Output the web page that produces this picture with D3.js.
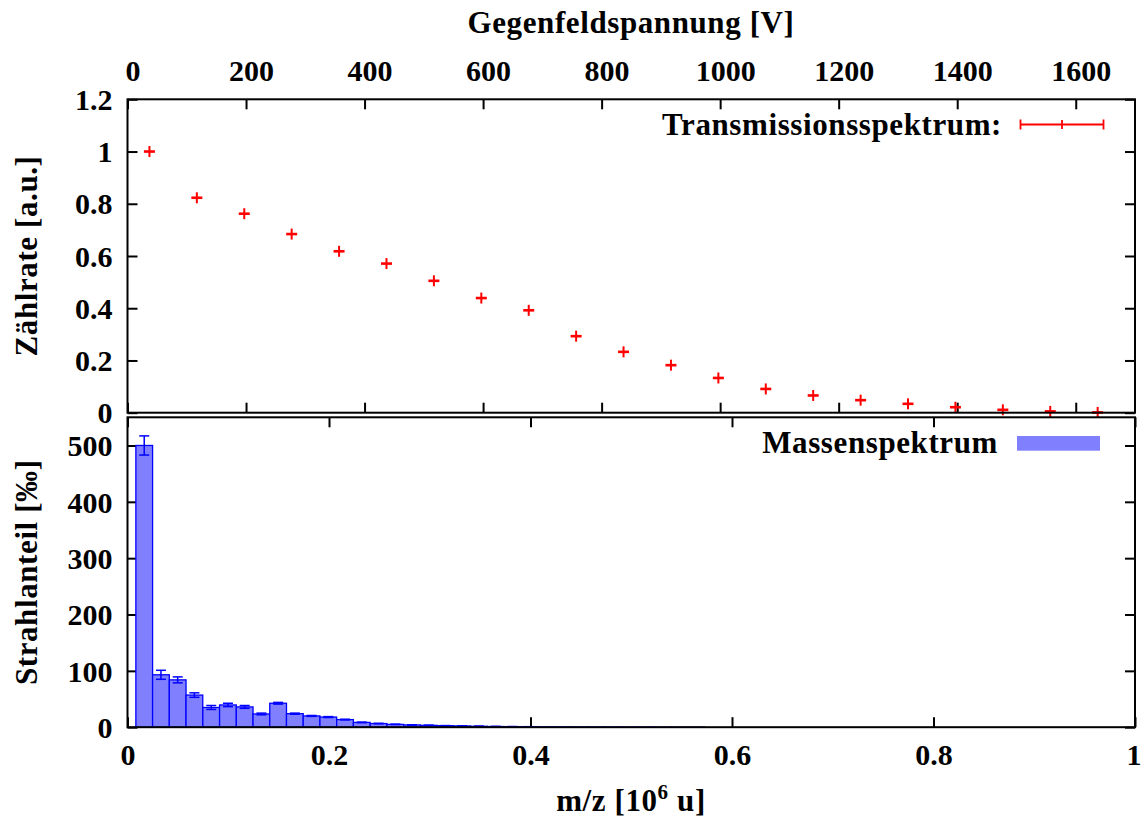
<!DOCTYPE html>
<html>
<head>
<meta charset="utf-8">
<script src="https://cdn.jsdelivr.net/npm/d3@7"></script>
<style>
  html, body { margin: 0; padding: 0; background: #fff; }
  svg { display: block; }
  text { font-family: "Liberation Serif", "Times New Roman", serif; font-weight: bold; fill: #000; }
</style>
</head>
<body>
<svg id="chart" width="1141" height="823"></svg>
<script>
// Transmission spectrum: count rate versus retarding voltage
const voltages = [37, 117, 197, 277, 357, 437, 517, 597, 677, 757, 837,
                  917, 997, 1077, 1157, 1237, 1317, 1397, 1477, 1557, 1637];
const countRate = [1.0, 0.823, 0.762, 0.684, 0.618, 0.571, 0.505, 0.439, 0.392, 0.293, 0.233,
                   0.182, 0.133, 0.091, 0.066, 0.048, 0.034, 0.021, 0.011, 0.005, 0.001];

// Mass spectrum: beam fraction per m/z bin (per mille)
const binCenters = [0.0166, 0.0332, 0.0498, 0.0664, 0.0831, 0.0997, 0.1163, 0.1329, 0.1495, 0.1661,
                    0.1827, 0.1993, 0.2159, 0.2325, 0.2492, 0.2658, 0.2824, 0.2990, 0.3156, 0.3322,
                    0.3488, 0.3654, 0.3820, 0.3986, 0.4153, 0.4319, 0.4485, 0.4651, 0.4817, 0.4983,
                    0.5149, 0.5315, 0.5481, 0.5647];
const binWidth = 0.0166;
const beamFraction = [500, 93, 84, 57, 35, 39.5, 36, 23.5, 42.5, 24,
                      20, 18, 13.5, 8.5, 6.5, 5, 4, 3.3, 2.7, 2.2,
                      1.6, 1.2, 1.0, 0.8, 0.6, 0.5, 0.4, 0.3, 0.3, 0.2,
                      0.2, 0.1, 0.1, 0.1];
const beamError = [17, 8, 5.3, 4, 3.5, 3, 2.5, 1.5, 1.5, 1,
                   0.8, 0.8, 0.6, 0.5, 0.4, 0.3, 0.3, 0.2, 0.2, 0.2,
                   0.1, 0.1, 0.1, 0.1, 0, 0, 0, 0, 0, 0,
                   0, 0, 0, 0];

// Tick values
const voltTicks = [0, 200, 400, 600, 800, 1000, 1200, 1400, 1600];
const rateTicks = [0, 0.2, 0.4, 0.6, 0.8, 1, 1.2];
const massTicks = [0, 0.2, 0.4, 0.6, 0.8, 1];
const fracTicks = [0, 100, 200, 300, 400, 500];

const svg = d3.select("#chart");
const L = 127.5, R = 1135;
const T1 = 99.3, B1 = 412.7;   // upper panel
const T2 = 417.3, B2 = 727.2;  // lower panel
const FS = 30;     // tick labels
const TS = 31;     // titles and legend
const LS = "0.6px";

const xV = d3.scaleLinear().domain([0, 1700]).range([L, R]);
const yRate = d3.scaleLinear().domain([0, 1.2]).range([B1, T1]);
const xM = d3.scaleLinear().domain([0, 1]).range([L, R]);
const yFrac = d3.scaleLinear().domain([0, 550]).range([B2, T2]);

const fmt = d => String(d);

function styleAxis(g) {
  g.select(".domain").remove();
  g.selectAll(".tick line").attr("stroke", "#000").attr("stroke-width", 2);
  g.selectAll(".tick text").attr("font-size", FS).attr("font-family", null);
}

// ---------- upper panel ----------
// top axis with voltage labels
svg.append("g").attr("transform", `translate(0,${T1})`)
  .call(d3.axisTop(xV).tickValues(voltTicks).tickFormat(fmt).tickSize(-10).tickPadding(18))
  .call(styleAxis)
  .call(g => g.selectAll(".tick text").attr("dx", 5));
// bottom mirror ticks
svg.append("g").attr("transform", `translate(0,${B1})`)
  .call(d3.axisBottom(xV).tickValues(voltTicks).tickFormat("").tickSize(-10))
  .call(styleAxis);
// left axis
svg.append("g").attr("transform", `translate(${L},0)`)
  .call(d3.axisLeft(yRate).tickValues(rateTicks).tickFormat(fmt).tickSize(-10).tickPadding(15))
  .call(styleAxis)
  .call(g => g.selectAll(".tick text").attr("dy", "0.34em"));
// right mirror ticks
svg.append("g").attr("transform", `translate(${R},0)`)
  .call(d3.axisRight(yRate).tickValues(rateTicks).tickFormat("").tickSize(-10))
  .call(styleAxis);

// data points as red crosses
const pts = svg.append("g");
voltages.forEach((v, i) => {
  const cx = xV(v), cy = yRate(countRate[i]);
  pts.append("line").attr("x1", cx - 5.5).attr("x2", cx + 5.5).attr("y1", cy).attr("y2", cy)
    .attr("stroke", "#ff0000").attr("stroke-width", 2.6);
  pts.append("line").attr("x1", cx).attr("x2", cx).attr("y1", cy - 5.5).attr("y2", cy + 5.5)
    .attr("stroke", "#ff0000").attr("stroke-width", 2);
});

svg.append("rect").attr("x", L).attr("y", T1).attr("width", R - L).attr("height", B1 - T1)
  .attr("fill", "none").attr("stroke", "#000").attr("stroke-width", 2);

// legend (upper)
svg.append("text").attr("x", 1002).attr("y", 135).attr("text-anchor", "end")
  .attr("font-size", TS).attr("letter-spacing", LS).text("Transmissionsspektrum:");
const lg1 = svg.append("g").attr("stroke", "#ff0000").attr("stroke-width", 1.8);
lg1.append("line").attr("x1", 1020.5).attr("x2", 1103.5).attr("y1", 124.5).attr("y2", 124.5);
lg1.append("line").attr("x1", 1020.5).attr("x2", 1020.5).attr("y1", 119.5).attr("y2", 129.5);
lg1.append("line").attr("x1", 1103.5).attr("x2", 1103.5).attr("y1", 119.5).attr("y2", 129.5);
lg1.append("line").attr("x1", 1062).attr("x2", 1062).attr("y1", 120).attr("y2", 129);

// ---------- lower panel ----------
svg.append("g").attr("transform", `translate(0,${B2})`)
  .call(d3.axisBottom(xM).tickValues(massTicks).tickFormat(fmt).tickSize(-10).tickPadding(18))
  .call(styleAxis)
  .call(g => g.selectAll(".tick text").attr("dy", "0.66em")
    .attr("text-anchor", d => d === 1 ? "end" : "middle")
    .attr("dx", d => d === 1 ? 6 : 0));
svg.append("g").attr("transform", `translate(0,${T2})`)
  .call(d3.axisTop(xM).tickValues(massTicks).tickFormat("").tickSize(-10))
  .call(styleAxis);
svg.append("g").attr("transform", `translate(${L},0)`)
  .call(d3.axisLeft(yFrac).tickValues(fracTicks).tickFormat(fmt).tickSize(-10).tickPadding(15))
  .call(styleAxis)
  .call(g => g.selectAll(".tick text").attr("dy", "0.34em"));
svg.append("g").attr("transform", `translate(${R},0)`)
  .call(d3.axisRight(yFrac).tickValues(fracTicks).tickFormat("").tickSize(-10))
  .call(styleAxis);

// histogram bars
const bars = svg.append("g");
bars.selectAll("rect").data(binCenters).join("rect")
  .attr("x", d => xM(d - binWidth / 2))
  .attr("width", d => xM(d + binWidth / 2) - xM(d - binWidth / 2))
  .attr("y", (d, i) => yFrac(beamFraction[i]))
  .attr("height", (d, i) => yFrac(0) - yFrac(beamFraction[i]))
  .attr("fill", "#8080ff").attr("stroke", "#0000ff").attr("stroke-width", 1.3);

// error bars
const errs = svg.append("g").attr("stroke", "#0000ff").attr("stroke-width", 1.5);
binCenters.forEach((c, i) => {
  if (beamError[i] <= 0) return;
  const cx = xM(c);
  const y0 = yFrac(beamFraction[i] - beamError[i]), y1 = yFrac(beamFraction[i] + beamError[i]);
  errs.append("line").attr("x1", cx).attr("x2", cx).attr("y1", y0).attr("y2", y1);
  errs.append("line").attr("x1", cx - 5).attr("x2", cx + 5).attr("y1", y0).attr("y2", y0);
  errs.append("line").attr("x1", cx - 5).attr("x2", cx + 5).attr("y1", y1).attr("y2", y1);
});

svg.append("rect").attr("x", L).attr("y", T2).attr("width", R - L).attr("height", B2 - T2)
  .attr("fill", "none").attr("stroke", "#000").attr("stroke-width", 2);

// legend (lower)
svg.append("text").attr("x", 998).attr("y", 453).attr("text-anchor", "end")
  .attr("font-size", TS).attr("letter-spacing", LS).text("Massenspektrum");
svg.append("rect").attr("x", 1017).attr("y", 436).attr("width", 83).attr("height", 14.7)
  .attr("fill", "#8080ff");

// ---------- axis titles ----------
svg.append("text").attr("x", 631).attr("y", 33).attr("text-anchor", "middle")
  .attr("font-size", TS).attr("letter-spacing", LS).text("Gegenfeldspannung [V]");

const xt = svg.append("text").attr("x", 631).attr("y", 811).attr("text-anchor", "middle")
  .attr("font-size", TS).attr("letter-spacing", LS);
xt.append("tspan").text("m/z [10");
xt.append("tspan").attr("font-size", 21).attr("dy", -12).text("6");
xt.append("tspan").attr("dy", 12).text(" u]");

svg.append("text").attr("transform", `translate(37,${(T1 + B1) / 2}) rotate(-90)`)
  .attr("text-anchor", "middle").attr("font-size", TS).attr("letter-spacing", LS).text("Zählrate [a.u.]");
svg.append("text").attr("transform", `translate(37,${(T2 + B2) / 2}) rotate(-90)`)
  .attr("text-anchor", "middle").attr("font-size", TS).attr("letter-spacing", LS).text("Strahlanteil [‰]");
</script>
</body>
</html>
